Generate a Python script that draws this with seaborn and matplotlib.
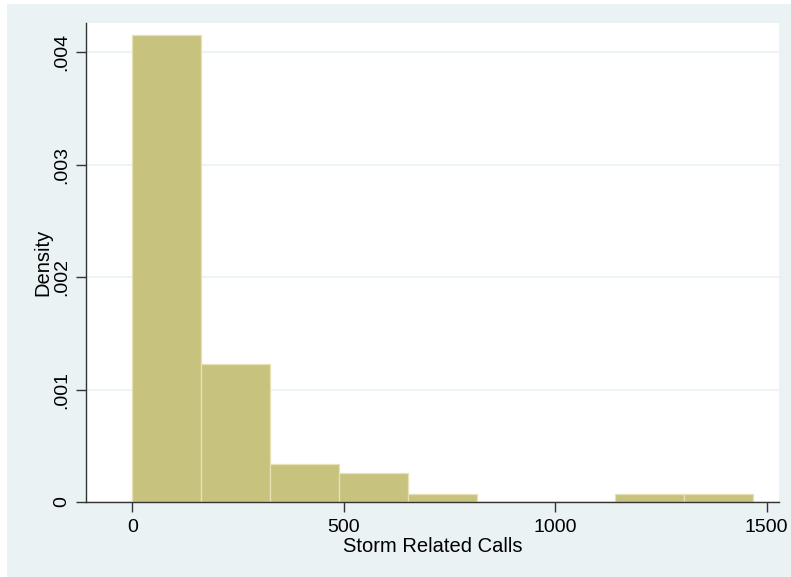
import numpy as np
import matplotlib
matplotlib.use("Agg")
import matplotlib.pyplot as plt
import seaborn as sns
from matplotlib.patches import Rectangle
from matplotlib.ticker import FuncFormatter

# histogram (Stata style, 9 bins)
bin_edges = [0, 163, 326, 489, 652, 815, 978, 1141, 1304, 1467]
density = [0.00415, 0.00123, 0.000335, 0.000255, 0.00007, 0, 0, 0.000072, 0.000072]
x_ticks = [0, 500, 1000, 1500]
y_ticks = [0, 0.001, 0.002, 0.003, 0.004]

sns.set_theme(style="white")
plt.rcParams['font.family'] = ['Liberation Sans', 'DejaVu Sans']

W, H = 791, 577
fig = plt.figure(figsize=(W / 100, H / 100), dpi=100)
fig.patch.set_facecolor('white')
fig.patches.append(Rectangle((7 / W, 0), 1 - 7 / W, 1 - 4 / H, transform=fig.transFigure,
                             facecolor='#EAF2F3', edgecolor='none', zorder=-10))

ax = fig.add_axes([86 / W, 1 - 502 / H, (779 - 86) / W, (502 - 23) / H])
ax.set_facecolor('white')

mids = [(a + b) / 2 for a, b in zip(bin_edges[:-1], bin_edges[1:])]
sns.histplot(x=mids, weights=density, bins=bin_edges, stat='count', ax=ax,
             color='#C8C27F', edgecolor='#E6E2B6', linewidth=0.9, alpha=1)

ax.set_xlim(-109.5, 1529)
ax.set_ylim(0, 0.00426)
ax.set_xticks(x_ticks)
ax.set_yticks(y_ticks)
ax.yaxis.set_major_formatter(FuncFormatter(lambda v, p: '0' if v == 0 else f'{v:.3f}'.lstrip('0')))
ax.grid(axis='y', color='#EAF2F3', linewidth=1.2)
ax.set_axisbelow(True)

for s in ['top', 'right']:
    ax.spines[s].set_visible(False)
for s in ['left', 'bottom']:
    ax.spines[s].set_color('#333333')
    ax.spines[s].set_linewidth(1.0)

ax.tick_params(axis='both', which='major', direction='out', length=7, width=1,
               color='#333333', labelsize=14, labelcolor='black', left=True, bottom=True)
ax.tick_params(axis='x', pad=5)
ax.tick_params(axis='y', pad=4)
for lab in ax.get_yticklabels():
    lab.set_rotation(90)
    lab.set_va('center')

ax.set_xlabel('Storm Related Calls', fontsize=14.5, labelpad=1, color='black')
ax.set_ylabel('Density', fontsize=14.5, labelpad=1, color='black')

fig.savefig('out.png', dpi=100, facecolor=fig.get_facecolor())
